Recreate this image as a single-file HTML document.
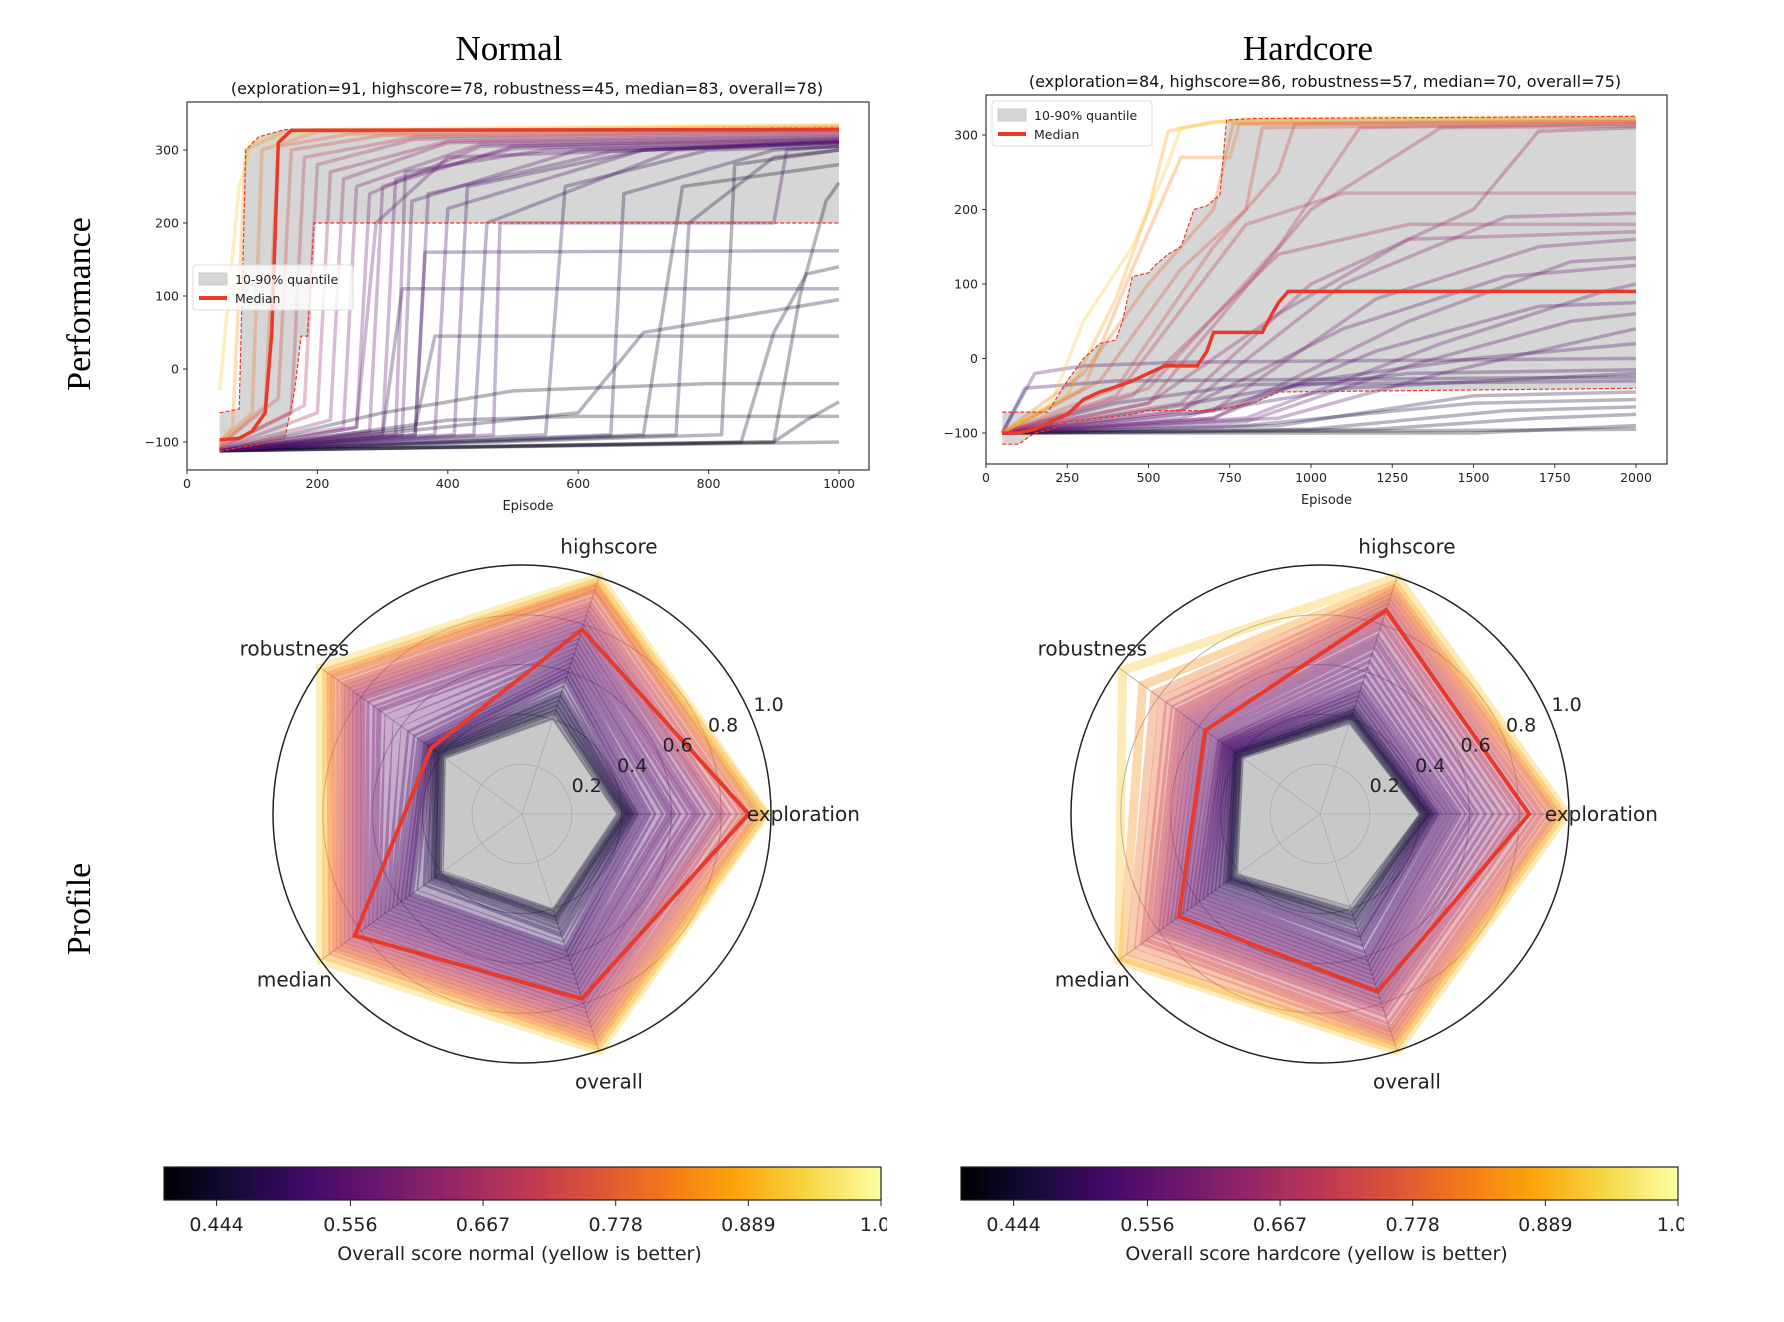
<!DOCTYPE html>
<html><head><meta charset="utf-8"><style>
html,body{margin:0;padding:0;background:#fff;}
svg{display:block;}
text{font-family:"DejaVu Sans","Liberation Sans",sans-serif;}
.serif{font-family:"Liberation Serif",serif;}
</style></head><body>
<svg id="fig" width="1784" height="1322" viewBox="0 0 1784 1322" xmlns="http://www.w3.org/2000/svg"></svg>
<script>
// ---------- DATA ----------
const normalScores = [0.91, 0.78, 0.45, 0.83, 0.78];
const hardcoreScores = [0.84, 0.86, 0.57, 0.70, 0.75];
const axisNames = ["exploration", "highscore", "robustness", "median", "overall"];
const radialTicks = [0.2, 0.4, 0.6, 0.8, 1.0];
const colorbarTicks = ["0.444", "0.556", "0.667", "0.778", "0.889", "1.00"];
const colorbarTickValues = [0.444, 0.556, 0.667, 0.778, 0.889, 1.0];
const normalXTicks = [0, 200, 400, 600, 800, 1000];
const hardcoreXTicks = [0, 250, 500, 750, 1000, 1250, 1500, 1750, 2000];
const perfYTicks = [-100, 0, 100, 200, 300];

const normalGray = [0.39, 0.41, 0.40, 0.39, 0.41];
const hardcoreGray = [0.42, 0.39, 0.40, 0.42, 0.39];

const normalProfiles = [
[0.98,1.0,1.0,1.0,1.0],[0.97,0.98,0.97,0.97,0.98],[0.95,0.96,0.95,0.94,0.96],[0.93,0.95,0.93,0.92,0.94],
[0.9,0.93,0.9,0.9,0.92],[0.88,0.9,0.88,0.88,0.9],[0.85,0.88,0.86,0.86,0.88],[0.82,0.86,0.84,0.84,0.86],
[0.8,0.84,0.82,0.82,0.84],[0.78,0.82,0.8,0.8,0.82],[0.75,0.8,0.78,0.78,0.8],[0.72,0.78,0.75,0.76,0.78],
[0.7,0.76,0.72,0.74,0.76],[0.68,0.74,0.7,0.72,0.74],[0.65,0.72,0.66,0.7,0.72],[0.62,0.7,0.62,0.68,0.7],
[0.6,0.68,0.58,0.66,0.68],[0.58,0.66,0.55,0.64,0.66],[0.55,0.64,0.52,0.62,0.64],[0.52,0.62,0.5,0.6,0.62],
[0.5,0.6,0.48,0.58,0.6],[0.48,0.58,0.47,0.56,0.58],[0.46,0.56,0.46,0.54,0.56],[0.45,0.52,0.45,0.5,0.52],
[0.44,0.5,0.44,0.47,0.5],[0.43,0.48,0.43,0.45,0.47],[0.42,0.46,0.42,0.43,0.45],[0.41,0.44,0.41,0.42,0.43],
[0.40,0.42,0.40,0.41,0.42]];
const normalProfileOverall = [0.93,0.85,0.81,0.78,0.76,0.73,0.71,0.69,0.67,0.64,0.62,0.6,0.59,0.58,0.57,0.56,0.55,0.55,0.54,0.53,0.52,0.51,0.5,0.49,0.48,0.47,0.46,0.45,0.44];
const hardcoreProfiles = [
[0.99,1.0,0.98,1.0,1.0],[0.97,0.97,0.88,0.98,0.98],[0.95,0.95,0.82,0.94,0.96],[0.93,0.93,0.78,0.9,0.94],
[0.9,0.91,0.75,0.87,0.92],[0.88,0.89,0.72,0.85,0.9],[0.85,0.87,0.7,0.82,0.87],[0.82,0.85,0.68,0.8,0.84],
[0.8,0.82,0.66,0.78,0.82],[0.77,0.8,0.64,0.76,0.8],[0.74,0.77,0.62,0.74,0.78],[0.71,0.74,0.6,0.72,0.76],
[0.68,0.72,0.58,0.7,0.74],[0.65,0.69,0.56,0.68,0.72],[0.62,0.66,0.54,0.66,0.7],[0.6,0.63,0.52,0.64,0.68],
[0.57,0.6,0.5,0.62,0.66],[0.55,0.57,0.49,0.6,0.64],[0.53,0.54,0.48,0.58,0.62],[0.51,0.52,0.47,0.56,0.6],
[0.49,0.5,0.46,0.54,0.57],[0.47,0.48,0.45,0.52,0.54],[0.46,0.46,0.44,0.5,0.52],[0.45,0.44,0.43,0.48,0.5],
[0.44,0.43,0.42,0.46,0.47],[0.43,0.42,0.41,0.45,0.45],[0.42,0.41,0.41,0.44,0.43],[0.42,0.40,0.40,0.43,0.41]];
const hardcoreProfileOverall = [0.92,0.85,0.8,0.77,0.75,0.73,0.71,0.69,0.67,0.65,0.63,0.61,0.6,0.59,0.58,0.57,0.56,0.55,0.54,0.53,0.52,0.51,0.5,0.49,0.48,0.46,0.45,0.44];

// Normal performance: flat [episode, value, ...]
const normalRuns = [
[50,-112,1000,-100],[50,-112,900,-100,950,-70,1000,-45],[50,-112,400,-70,600,-65,1000,-65],
[50,-112,300,-60,500,-30,800,-20,1000,-20],[50,-112,600,-60,700,50,900,80,1000,95],
[50,-112,900,-100,940,100,980,230,1000,255],[50,-112,850,-100,900,50,950,130,1000,140],
[50,-112,350,-80,380,45,1000,45],[50,-112,300,-90,330,110,1000,110],[50,-112,350,-90,365,160,1000,162],
[50,-112,700,-90,760,250,1000,280],[50,-112,820,-90,840,280,1000,300],[50,-112,750,-90,770,200,900,290,1000,300],
[50,-112,650,-90,670,240,900,300,1000,305],[50,-112,550,-90,580,250,800,300,1000,305],
[50,-112,470,-90,480,200,900,200,920,300,1000,305],[50,-112,440,-90,460,200,750,300,1000,310],
[50,-112,410,-90,430,250,700,300,1000,312],[50,-112,380,-90,400,220,700,300,1000,312],
[50,-112,350,-90,370,240,650,298,1000,310],[50,-112,330,-90,345,230,600,300,1000,310],
[50,-112,320,-90,335,270,550,300,1000,312],[50,-112,300,-85,320,260,500,302,1000,314],
[50,-112,280,-85,300,250,500,305,1000,315],[50,-112,260,-80,280,240,450,305,1000,316],
[50,-112,260,-80,290,200,400,290,1000,310],[50,-110,240,-80,260,250,450,308,1000,318],
[50,-110,220,-70,240,260,400,310,1000,320],[50,-110,200,-60,220,270,400,312,1000,322],
[50,-108,180,-50,200,280,350,315,1000,325],[50,-108,160,-60,180,290,350,318,1000,326],
[50,-105,140,-40,160,300,300,320,1000,328],[50,-105,120,-50,140,305,250,322,1000,330],
[50,-100,100,-60,115,300,200,325,1000,332],[50,-100,70,-80,90,300,150,326,1000,333],
[50,-30,80,250,100,310,200,328,1000,335]];
const normalRunScores = [0.42,0.42,0.44,0.44,0.44,0.43,0.44,0.47,0.48,0.48,0.44,0.45,0.46,0.47,0.48,0.52,0.5,0.51,0.52,
0.53,0.54,0.55,0.56,0.57,0.58,0.55,0.6,0.62,0.64,0.67,0.7,0.74,0.78,0.82,0.86,0.92];
const normalMedian = [50,-97,80,-95,100,-85,120,-60,130,50,140,310,160,327,1000,328];
const normalUpper = [50,-60,80,-55,90,300,110,318,150,328,1000,330];
const normalLower = [50,-112,100,-105,150,-95,165,-30,175,45,185,45,195,200,1000,200];

const hardRuns = [
[50,-100,1500,-100,2000,-90],[50,-100,2000,-95],[50,-100,1200,-95,1700,-80,2000,-75],[50,-100,1000,-95,1600,-70,2000,-65],
[50,-100,800,-90,1500,-60,2000,-55],[50,-100,900,-90,1500,-50,2000,-45],[50,-100,120,-40,400,-30,2000,-25],
[50,-100,700,-70,1100,-40,2000,-20],[50,-100,400,-60,800,-35,2000,-30],[50,-100,500,-70,900,-40,1300,-20,2000,-15],
[50,-100,150,-20,300,-10,600,-5,2000,0],[50,-100,600,-80,1000,-30,1500,0,2000,20],[50,-100,900,-80,1400,-20,1900,30,2000,40],
[50,-100,800,-85,1300,-10,1800,50,2000,60],[50,-100,700,-80,1200,10,1700,70,2000,75],[50,-100,800,-80,1400,20,1900,90,2000,100],
[50,-100,600,-70,1100,40,1600,110,2000,125],[50,-100,700,-80,1300,50,1800,130,2000,135],[50,-100,700,-70,1200,80,1700,150,2000,160],
[50,-100,500,-60,900,60,1300,160,2000,170],[50,-100,600,-70,1100,100,1600,190,2000,195],[50,-100,600,-60,1000,100,1500,200,1700,305,2000,310],
[50,-100,450,-50,900,140,1300,180,2000,180],[50,-100,500,-60,1000,200,1400,310,2000,312],[50,-100,500,-40,900,150,1150,310,2000,315],
[50,-100,400,-50,800,180,1100,222,2000,222],[50,-100,400,-40,700,150,900,250,950,315,2000,318],[50,-100,350,-30,600,120,800,200,850,310,2000,315],
[50,-100,300,-20,500,100,700,200,760,315,2000,318],[50,-100,300,-40,450,120,600,270,750,270,780,315,2000,320],
[50,-100,250,-50,400,80,500,200,560,305,700,318,2000,322],[50,-100,200,-60,300,50,450,150,550,250,600,310,800,322,2000,325]];
const hardRunScores = [0.42,0.43,0.44,0.45,0.46,0.47,0.5,0.5,0.51,0.52,0.53,0.53,0.54,0.55,0.55,0.56,0.57,0.58,0.6,0.62,0.62,0.64,
0.66,0.67,0.7,0.7,0.74,0.76,0.8,0.83,0.87,0.92];
const hardMedian = [50,-100,100,-100,150,-95,200,-85,250,-75,300,-55,350,-45,400,-38,450,-30,500,-20,550,-10,650,-10,680,10,700,35,850,35,880,60,900,75,930,90,2000,90];
const hardUpper = [50,-72,190,-72,250,-30,300,0,350,20,400,25,420,50,450,110,500,115,520,125,560,140,600,150,640,200,680,205,720,220,740,320,820,322,2000,325];
const hardLower = [50,-115,100,-115,150,-100,200,-95,250,-85,350,-80,450,-75,500,-70,700,-70,820,-60,900,-45,2000,-40];

// ---------- HELPERS ----------
const NS = "http://www.w3.org/2000/svg";
const svg = document.getElementById("fig");
function mk(tag, attrs, parent) {
  const e = document.createElementNS(NS, tag);
  for (const k in attrs) e.setAttribute(k, attrs[k]);
  (parent || svg).appendChild(e);
  return e;
}
const inferno = [[0,0,4],[22,11,57],[66,10,104],[106,23,110],[147,38,103],[188,55,84],[221,81,58],[243,120,25],[252,165,10],[246,215,70],[252,255,164]];
function cmap(t) {
  t = Math.max(0, Math.min(1, t));
  const p = t * 10, i = Math.min(9, Math.floor(p)), f = p - i;
  const a = inferno[i], b = inferno[i + 1];
  return "rgb(" + [0,1,2].map(k => Math.round(a[k] + (b[k] - a[k]) * f)).join(",") + ")";
}
function scoreColor(c) { return cmap((c - 0.4) / 0.6); }
function ptsOf(arr, fx, fy) { let s = []; for (let i = 0; i < arr.length; i += 2) s.push(fx(arr[i]).toFixed(1) + "," + fy(arr[i + 1]).toFixed(1)); return s; }
function txt(x, y, s, attrs, parent) { const t = mk("text", Object.assign({x: x, y: y}, attrs), parent); t.textContent = s; return t; }

// ---------- TITLES ----------
let t;
t = txt(509, 60, "Normal", {"class": "serif", "font-size": "35", "text-anchor": "middle", fill: "#000"});
 
t = txt(1308, 60, "Hardcore", {"class": "serif", "font-size": "35", "text-anchor": "middle", fill: "#000"});
 
t = txt(527, 94, "(exploration=91, highscore=78, robustness=45, median=83, overall=78)", {"font-size": "16", "text-anchor": "middle", fill: "#111"});
 
t = txt(1325, 87, "(exploration=84, highscore=86, robustness=57, median=70, overall=75)", {"font-size": "16", "text-anchor": "middle", fill: "#111"});
 
t = txt(0, 0, "Performance", {"class": "serif", "font-size": "34", "text-anchor": "middle", transform: "translate(90,304) rotate(-90)"});
 
t = txt(0, 0, "Profile", {"class": "serif", "font-size": "34", "text-anchor": "middle", transform: "translate(90,909) rotate(-90)"});
 

// ---------- PERFORMANCE PLOTS ----------
function perfPlot(cfg) {
  const g = mk("g", {});
  
  
  const fx = e => cfg.x0 + e * cfg.sx, fy = v => cfg.y100 - (v + 100) * cfg.sy;
  const clipId = cfg.name + "-clip";
  const cp = mk("clipPath", {id: clipId}, g);
  mk("rect", {x: cfg.L, y: cfg.T, width: cfg.R - cfg.L, height: cfg.B - cfg.T}, cp);
  const pg = mk("g", {"clip-path": "url(#" + clipId + ")"}, g);
  const up = ptsOf(cfg.upper, fx, fy), lo = ptsOf(cfg.lower, fx, fy);
  const band = mk("polygon", {points: up.concat(lo.slice().reverse()).join(" "), fill: "#d6d6d6"}, pg);
  
  
  cfg.runs.forEach((r, i) => {
    const pl = mk("polyline", {points: ptsOf(r, fx, fy).join(" "), fill: "none", stroke: scoreColor(cfg.scores[i]), "stroke-width": "3.5", "stroke-opacity": "0.3", "stroke-linejoin": "round"}, pg);
    
    
  });
  [cfg.upper, cfg.lower].forEach(q => {
    const d = mk("polyline", {points: ptsOf(q, fx, fy).join(" "), fill: "none", stroke: "#e8392a", "stroke-width": "1.2", "stroke-dasharray": "4,2"}, pg);
    
    
  });
  const med = mk("polyline", {points: ptsOf(cfg.median, fx, fy).join(" "), fill: "none", stroke: "#e8392a", "stroke-width": "3.5"}, pg);
  
  
  const fr = mk("rect", {x: cfg.L, y: cfg.T, width: cfg.R - cfg.L, height: cfg.B - cfg.T, fill: "none", stroke: "#333", "stroke-width": "1.2"}, g);
  
  
  cfg.xticks.forEach(v => {
    const x = fx(v);
    mk("line", {x1: x, x2: x, y1: cfg.B, y2: cfg.B + 4, stroke: "#333"}, g);
    const tl = txt(x, cfg.B + 18, String(v), {"font-size": "12.5", "text-anchor": "middle", fill: "#222"}, g);
    
    
  });
  perfYTicks.forEach(v => {
    const y = fy(v);
    mk("line", {x1: cfg.L - 4, x2: cfg.L, y1: y, y2: y, stroke: "#333"}, g);
    const tl = txt(cfg.L - 8, y + 4.5, v < 0 ? "\u2212" + (-v) : String(v), {"font-size": "12.5", "text-anchor": "end", fill: "#222"}, g);
    
    
  });
  const xl = txt((cfg.L + cfg.R) / 2, cfg.B + 40, "Episode", {"font-size": "13", "text-anchor": "middle", fill: "#222"}, g);
  
  
  const lg = mk("g", {}, g);
  
  
  mk("rect", {x: cfg.lx, y: cfg.ly, width: 160, height: 45, rx: 3, fill: "#fff", "fill-opacity": "0.8", stroke: "#ddd"}, lg);
  mk("rect", {x: cfg.lx + 6, y: cfg.ly + 8, width: 28, height: 12, fill: "#d6d6d6", stroke: "#ccc"}, lg);
  const l1 = txt(cfg.lx + 42, cfg.ly + 19, "10-90% quantile", {"font-size": "12.5", fill: "#222"}, lg);
  
  
  mk("line", {x1: cfg.lx + 6, x2: cfg.lx + 34, y1: cfg.ly + 33, y2: cfg.ly + 33, stroke: "#e8392a", "stroke-width": "4"}, lg);
  const l2 = txt(cfg.lx + 42, cfg.ly + 38, "Median", {"font-size": "12.5", fill: "#222"}, lg);
  
  
}
perfPlot({name: "normal-performance-chart", L: 187, R: 869, T: 102, B: 470, x0: 187, sx: 0.652, y100: 442, sy: 0.73,
  runs: normalRuns, scores: normalRunScores, median: normalMedian, upper: normalUpper, lower: normalLower, xticks: normalXTicks, lx: 193, ly: 265});
perfPlot({name: "hardcore-performance-chart", L: 986, R: 1667, T: 95, B: 464, x0: 986, sx: 0.325, y100: 433, sy: 0.745,
  runs: hardRuns, scores: hardRunScores, median: hardMedian, upper: hardUpper, lower: hardLower, xticks: hardcoreXTicks, lx: 992, ly: 101});

// ---------- RADAR ----------
function radar(cfg) {
  const g = mk("g", {});
  
  
  const cx = cfg.cx, cy = cfg.cy, R = 249;
  const ang = i => i * 2 * Math.PI / 5;
  const poly = vals => vals.map((v, i) => (cx + R * v * Math.cos(ang(i))).toFixed(1) + "," + (cy - R * v * Math.sin(ang(i))).toFixed(1)).join(" ");
  const gf = mk("polygon", {points: poly(cfg.gray), fill: "#c8c8c8"}, g);
  
  
  radialTicks.slice(0, 4).forEach(v => mk("circle", {cx: cx, cy: cy, r: R * v, fill: "none", stroke: "#b0b0b0", "stroke-width": "1"}, g));
  for (let i = 0; i < 5; i++) mk("line", {x1: cx, y1: cy, x2: cx + R * Math.cos(ang(i)), y2: cy - R * Math.sin(ang(i)), stroke: "#b0b0b0", "stroke-width": "1"}, g);
  const n = cfg.profiles.length;
  for (let k = n - 1; k >= 0; k--) {
    const p = cfg.profiles[k];
    const pl = mk("polygon", {points: poly(p), fill: "none", stroke: scoreColor(cfg.overall[k]), "stroke-width": "9", "stroke-opacity": "0.35", "stroke-linejoin": "miter"}, g);
    
    
  }
  const med = mk("polygon", {points: poly(cfg.median), fill: "none", stroke: "#e8392a", "stroke-width": "4"}, g);
  
  
  const oc = mk("circle", {cx: cx, cy: cy, r: R, fill: "none", stroke: "#222", "stroke-width": "1.5"}, g);
  
  
  const ta = 24 * Math.PI / 180;
  radialTicks.forEach(v => {
    const r = R * v + 21;
    const tl = txt(cx + r * Math.cos(ta), cy - r * Math.sin(ta) + 7, v.toFixed(1), {"font-size": "19", "text-anchor": "middle", fill: "#222"}, g);
    
    
  });
  axisNames.forEach((nm, i) => {
    const r = R * 1.13;
    const tl = txt(cx + r * Math.cos(ang(i)), cy - r * Math.sin(ang(i)) + 7, nm, {"font-size": "20", "text-anchor": "middle", fill: "#222"}, g);
    
    
  });
}
radar({name: "normal-profile-radar", cx: 522, cy: 814, gray: normalGray, profiles: normalProfiles, overall: normalProfileOverall, median: normalScores});
radar({name: "hardcore-profile-radar", cx: 1320, cy: 814, gray: hardcoreGray, profiles: hardcoreProfiles, overall: hardcoreProfileOverall, median: hardcoreScores});

// ---------- COLORBARS ----------
const defs = mk("defs", {});
const grad = mk("linearGradient", {id: "inferno", x1: "0", x2: "1", y1: "0", y2: "0"}, defs);
for (let i = 0; i <= 20; i++) mk("stop", {offset: (i / 20).toFixed(2), "stop-color": cmap(i / 20)}, grad);
function colorbar(x, label, name) {
  const g = mk("g", {});
  
  
  const W = 717, y = 1167, H = 33;
  mk("rect", {x: x, y: y, width: W, height: H, fill: "url(#inferno)", stroke: "#222", "stroke-width": "1.2"}, g);
  const cid = name + "-clip";
  const cp = mk("clipPath", {id: cid}, g);
  mk("rect", {x: x - 60, y: y, width: W + 66, height: 120}, cp);
  const tg = mk("g", {"clip-path": "url(#" + cid + ")"}, g);
  colorbarTickValues.forEach((v, i) => {
    const tx = x + (v - 0.4) / 0.6 * W;
    mk("line", {x1: tx, x2: tx, y1: y + H, y2: y + H + 6, stroke: "#222"}, g);
    const tl = txt(tx, y + H + 31, colorbarTicks[i], {"font-size": "19", "text-anchor": "middle", fill: "#222"}, tg);
    
    
  });
  const lb = txt(x + W / 2 - 3, y + H + 60, label, {"font-size": "19", "text-anchor": "middle", fill: "#222"}, g);
  
  
}
colorbar(164, "Overall score normal (yellow is better)", "normal-colorbar");
colorbar(961, "Overall score hardcore (yellow is better)", "hardcore-colorbar");
</script>
</body></html>
